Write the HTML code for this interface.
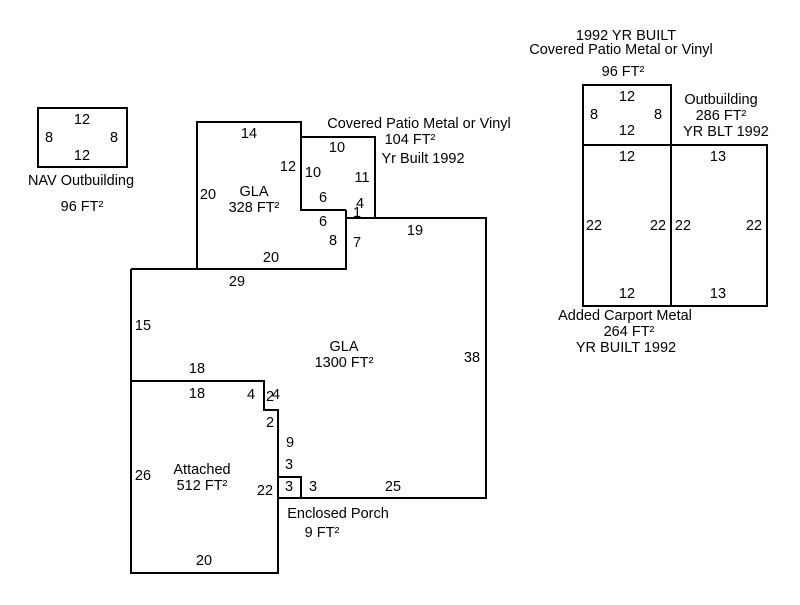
<!DOCTYPE html>
<html><head><style>body{margin:0;background:#fff}svg text{font-family:"Liberation Sans",sans-serif;font-size:14.5px;fill:#000}</style></head><body>
<svg width="800" height="600" xmlns="http://www.w3.org/2000/svg">
<g fill="none" stroke="#000" stroke-width="2">
<rect x="38" y="108" width="89" height="59"/>
<polyline points="346,210 301,210 301,122 197,122 197,269"/>
<polyline points="301,137 375,137 375,218"/>
<polyline points="131,269 346,269 346,218 486,218 486,498 278,498"/>
<polyline points="346,210 346,218"/>
<polyline points="131,269 131,573 278,573 278,410 264,410 264,381 131,381"/>
<polyline points="278,477 301,477 301,498"/>
<rect x="583" y="85" width="88" height="60"/>
<rect x="583" y="145" width="88" height="161"/>
<rect x="671" y="145" width="96" height="161"/>
</g>
<g text-anchor="middle">
<text x="82" y="124">12</text><text x="82" y="160">12</text><text x="49" y="142">8</text><text x="114" y="142">8</text>
<text x="81" y="185">NAV Outbuilding</text><text x="82" y="211">96 FT²</text>
<text x="249" y="138">14</text><text x="288" y="171">12</text><text x="208" y="199">20</text>
<text x="254" y="196">GLA</text><text x="254" y="212">328 FT²</text>
<text x="271" y="262">20</text><text x="313" y="177">10</text><text x="337" y="152">10</text><text x="362" y="182">11</text>
<text x="323" y="202">6</text><text x="323" y="226">6</text><text x="333" y="245">8</text><text x="360" y="208">4</text><text x="357" y="217" font-size="11">1</text><text x="357" y="247">7</text>
<text x="419" y="128">Covered Patio Metal or Vinyl</text><text x="410" y="144">104 FT²</text><text x="423" y="163">Yr Built 1992</text>
<text x="415" y="235">19</text><text x="237" y="286">29</text><text x="143" y="330">15</text>
<text x="344" y="351">GLA</text><text x="344" y="367">1300 FT²</text><text x="472" y="362">38</text>
<text x="197" y="373">18</text><text x="197" y="398">18</text><text x="251" y="399">4</text><text x="270" y="401">2</text><text x="276" y="399">4</text>
<text x="270" y="427">2</text><text x="290" y="447">9</text><text x="289" y="469">3</text><text x="289" y="491">3</text><text x="313" y="491">3</text>
<text x="265" y="495">22</text><text x="393" y="491">25</text><text x="143" y="480">26</text>
<text x="202" y="474">Attached</text><text x="202" y="490">512 FT²</text><text x="204" y="565">20</text>
<text x="338" y="518">Enclosed Porch</text><text x="322" y="537">9 FT²</text>
<text x="626" y="40">1992 YR BUILT</text><text x="621" y="54">Covered Patio Metal or Vinyl</text><text x="623" y="76">96 FT²</text>
<text x="627" y="101">12</text><text x="627" y="135">12</text><text x="594" y="119">8</text><text x="658" y="119">8</text>
<text x="721" y="104">Outbuilding</text><text x="721" y="120">286 FT²</text><text x="726" y="136">YR BLT 1992</text>
<text x="627" y="161">12</text><text x="718" y="161">13</text><text x="594" y="230">22</text><text x="658" y="230">22</text><text x="683" y="230">22</text><text x="754" y="230">22</text>
<text x="627" y="298">12</text><text x="718" y="298">13</text>
<text x="625" y="320">Added Carport Metal</text><text x="629" y="336">264 FT²</text><text x="626" y="352">YR BUILT 1992</text>
</g>
</svg></body></html>
